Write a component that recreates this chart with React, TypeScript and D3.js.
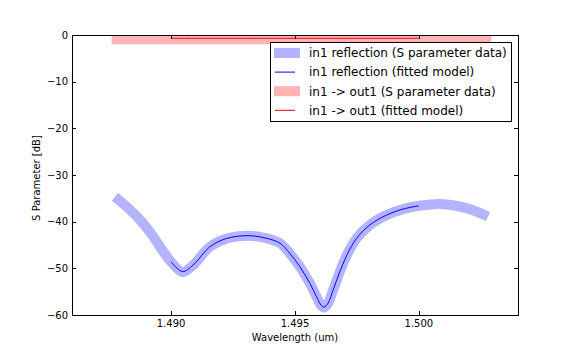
import * as d3 from 'd3';
import React, { useEffect, useRef } from 'react';

// wavelength (um) / dB
const reflWl = [1.48773, 1.48827, 1.48881, 1.48928, 1.48968, 1.49000, 1.49046, 1.49089, 1.49156, 1.49224, 1.49311, 1.49380, 1.49439, 1.49479, 1.49519, 1.49560, 1.49587, 1.49607, 1.49617, 1.49633, 1.49654, 1.49679, 1.49708, 1.49748, 1.49802, 1.49869, 1.49936, 1.50000, 1.50084, 1.50192, 1.50279];
const reflDb = [-34.7, -37.1, -40.0, -43.2, -46.4, -48.6, -50.8, -49.3, -45.4, -43.6, -43.0, -43.5, -44.6, -46.8, -49.6, -53.2, -56.1, -58.1, -58.4, -57.5, -54.6, -51.0, -47.3, -43.6, -40.7, -38.6, -37.3, -36.6, -36.2, -37.1, -38.9];

const reflFitWl = [1.49000, 1.49046, 1.49089, 1.49156, 1.49224, 1.49311, 1.49380, 1.49439, 1.49479, 1.49519, 1.49560, 1.49587, 1.49607, 1.49617, 1.49633, 1.49654, 1.49679, 1.49708, 1.49748, 1.49802, 1.49869, 1.49936, 1.50000];
const reflFitDb = [-48.6, -50.7, -49.3, -45.4, -43.6, -43.0, -43.5, -44.6, -46.8, -49.6, -53.2, -56.1, -58.0, -58.3, -57.5, -54.6, -51.0, -47.3, -43.6, -40.7, -38.6, -37.3, -36.6];

const thruWl = [1.48760, 1.49500, 1.50292];
const thruDb = [-0.9, -0.9, -0.9];
const thruFitWl = [1.49000, 1.49500, 1.50000];
const thruFitDb = [-0.7, -0.7, -0.7];

const xTicks = [1.490, 1.495, 1.500];
const yTicks = [0, -10, -20, -30, -40, -50, -60];

const legendLabels = [
  'in1 reflection (S parameter data)',
  'in1 reflection (fitted model)',
  'in1 -> out1 (S parameter data)',
  'in1 -> out1 (fitted model)',
];

const BLUE_BAND = '#b3b3ff';
const RED_BAND = '#ffb3b3';

function App() {
  const ref = useRef(null);

  useEffect(() => {
    const W = 576, H = 360;
    const margin = { top: 35, right: 58, bottom: 45, left: 72 };
    const width = W - margin.left - margin.right;
    const height = H - margin.top - margin.bottom;
    const font = '"DejaVu Sans", sans-serif';

    const root = d3.select(ref.current);
    root.selectAll('*').remove();

    const svg = root.append('svg')
      .attr('width', W)
      .attr('height', H)
      .style('position', 'fixed')
      .style('left', 0)
      .style('top', 0)
      .style('background', '#fff')
      .style('font-family', font);

    const x = d3.scaleLinear().domain([1.486, 1.504]).range([0, width]);
    const y = d3.scaleLinear().domain([-60, 0]).range([height, 0]);

    const g = svg.append('g')
      .attr('transform', 'translate(' + margin.left + ',' + margin.top + ')');

    g.append('clipPath').attr('id', 'plotclip')
      .append('rect').attr('width', width).attr('height', height);

    const line = d3.line()
      .x(d => x(d[0]))
      .y(d => y(d[1]))
      .curve(d3.curveCatmullRom.alpha(0.5));

    const plot = g.append('g').attr('clip-path', 'url(#plotclip)');

    const series = [
      { wl: reflWl, db: reflDb, color: BLUE_BAND, w: 10 },
      { wl: reflFitWl, db: reflFitDb, color: '#0000ff', w: 1 },
      { wl: thruWl, db: thruDb, color: RED_BAND, w: 10 },
      { wl: thruFitWl, db: thruFitDb, color: '#ff0000', w: 1 },
    ];

    series.forEach(s => {
      plot.append('path')
        .datum(s.wl.map((v, i) => [v, s.db[i]]))
        .attr('fill', 'none')
        .attr('stroke', s.color)
        .attr('stroke-width', s.w)
        .attr('stroke-linejoin', 'round')
        .attr('d', line);
    });

    // frame
    g.append('rect')
      .attr('width', width).attr('height', height)
      .attr('fill', 'none').attr('stroke', '#000').attr('stroke-width', 1)
      .attr('shape-rendering', 'crispEdges');

    // inward ticks on all four sides
    const tk = 4;
    xTicks.forEach(t => {
      const px = Math.round(x(t)) + 0.5;
      g.append('line').attr('x1', px).attr('x2', px).attr('y1', height).attr('y2', height - tk).attr('stroke', '#000');
      g.append('line').attr('x1', px).attr('x2', px).attr('y1', 0).attr('y2', tk).attr('stroke', '#000');
      g.append('text')
        .attr('x', x(t)).attr('y', height + 12)
        .attr('text-anchor', 'middle')
        .attr('font-size', 10)
        .text(d3.format('.3f')(t));
    });
    yTicks.forEach(t => {
      const py = Math.round(y(t)) + 0.5;
      g.append('line').attr('x1', 0).attr('x2', tk).attr('y1', py).attr('y2', py).attr('stroke', '#000');
      g.append('line').attr('x1', width).attr('x2', width - tk).attr('y1', py).attr('y2', py).attr('stroke', '#000');
      g.append('text')
        .attr('x', -4).attr('y', y(t) + 3.6)
        .attr('text-anchor', 'end')
        .attr('font-size', 10)
        .text(t < 0 ? '\u2212' + Math.abs(t) : String(t));
    });

    g.append('text')
      .attr('x', width / 2).attr('y', height + 26)
      .attr('text-anchor', 'middle')
      .attr('font-size', 10)
      .text('Wavelength (um)');

    g.append('text')
      .attr('transform', 'translate(' + (-32) + ',' + (height / 2 + 3) + ') rotate(-90)')
      .attr('text-anchor', 'middle')
      .attr('font-size', 10)
      .text('S Parameter [dB]');

    // legend
    const lg = svg.append('g').attr('transform', 'translate(270.5,42.5)');
    lg.append('rect')
      .attr('width', 241).attr('height', 79)
      .attr('fill', '#fff').attr('stroke', '#000').attr('stroke-width', 1);

    legendLabels.forEach((lab, i) => {
      const ry = 10.5 + i * 19.1;
      const s = series[i];
      if (s.w > 1) {
        lg.append('rect')
          .attr('x', 3.5).attr('y', ry - 5)
          .attr('width', 26).attr('height', 10)
          .attr('fill', s.color);
      } else {
        lg.append('line')
          .attr('x1', 4.5).attr('x2', 24.5)
          .attr('y1', ry).attr('y2', ry)
          .attr('stroke', s.color).attr('stroke-width', 1);
      }
      lg.append('text')
        .attr('x', 38.5).attr('y', ry + 4.3)
        .attr('font-size', 12)
        .text(lab);
    });
  }, []);

  return <div ref={ref}></div>;
}

export default App;
